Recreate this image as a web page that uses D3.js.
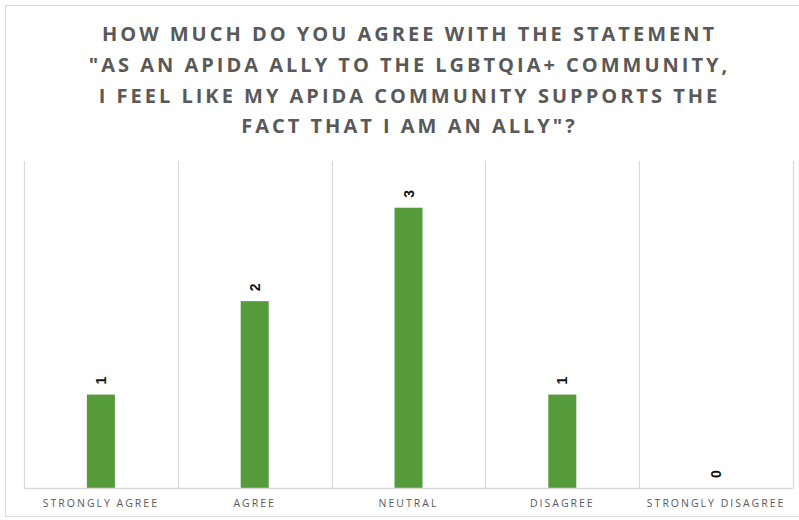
<!DOCTYPE html>
<html>
<head>
<meta charset="utf-8">
<script src="https://cdn.jsdelivr.net/npm/d3@7"></script>
<style>
  html, body { margin: 0; padding: 0; background: #fff; }
  svg { display: block; }
</style>
</head>
<body>
<svg id="chart" width="799" height="520"></svg>
<script>
// Survey responses
const categories = ["STRONGLY AGREE", "AGREE", "NEUTRAL", "DISAGREE", "STRONGLY DISAGREE"];
const counts = [1, 2, 3, 1, 0];
const titleLines = [
  "HOW MUCH DO YOU AGREE WITH THE STATEMENT",
  "\"AS AN APIDA ALLY TO THE LGBTQIA+ COMMUNITY,",
  "I FEEL LIKE MY APIDA COMMUNITY SUPPORTS THE",
  "FACT THAT I AM AN ALLY\"?"
];
const yMax = 3.5;

const W = 799, H = 520;
const plot = { left: 24, right: 793, top: 161, bottom: 488 };

const svg = d3.select("#chart");

// outer chart frame
svg.append("rect")
  .attr("x", 5.5).attr("y", 5.5)
  .attr("width", W).attr("height", 511)
  .attr("fill", "#fff")
  .attr("stroke", "#d9d9d9").attr("stroke-width", 1);

// title
const title = svg.append("text")
  .attr("text-anchor", "middle")
  .attr("font-family", "'Open Sans', sans-serif")
  .attr("font-weight", 700)
  .attr("font-size", 20)
  .attr("letter-spacing", 3)
  .attr("fill", "#595959");
title.selectAll("tspan")
  .data(titleLines)
  .join("tspan")
  .attr("x", 409.5)
  .attr("y", (d, i) => 41 + i * 30.8)
  .text(d => d);

const x = d3.scaleBand()
  .domain(categories)
  .range([plot.left, plot.right])
  .paddingInner(0)
  .paddingOuter(0);

const y = d3.scaleLinear()
  .domain([0, yMax])
  .range([plot.bottom, plot.top]);

// vertical category gridlines
const edges = categories.map(c => x(c)).concat([plot.right]);
svg.append("g")
  .selectAll("line")
  .data(edges)
  .join("line")
  .attr("x1", d => Math.round(d) + 0.5)
  .attr("x2", d => Math.round(d) + 0.5)
  .attr("y1", plot.top)
  .attr("y2", plot.bottom)
  .attr("stroke", "#d9d9d9")
  .attr("stroke-width", 1.2);

// bars
const barW = 28;
svg.append("g")
  .selectAll("rect")
  .data(counts)
  .join("rect")
  .attr("x", (d, i) => x(categories[i]) + x.bandwidth() / 2 - barW / 2)
  .attr("y", d => y(d))
  .attr("width", barW)
  .attr("height", d => y(0) - y(d))
  .attr("fill", "#559b3b");

// x axis
const xAxis = svg.append("g")
  .attr("transform", `translate(0,${plot.bottom})`)
  .call(d3.axisBottom(x).tickSize(0).tickPadding(12));
xAxis.select(".domain")
  .attr("stroke", "#d9d9d9")
  .attr("stroke-width", 1.5);
xAxis.selectAll("text")
  .attr("font-family", "'Open Sans', sans-serif")
  .attr("font-size", 10.5)
  .attr("letter-spacing", 2)
  .attr("fill", "#595959");

// value labels, rotated to read upward
svg.append("g")
  .selectAll("text")
  .data(counts)
  .join("text")
  .attr("transform", (d, i) => {
    const cx = x(categories[i]) + x.bandwidth() / 2;
    return `translate(${cx + 5},${y(d) - 10}) rotate(-90)`;
  })
  .attr("text-anchor", "start")
  .attr("font-family", "'Liberation Sans', Arial, sans-serif")
  .attr("font-weight", 700)
  .attr("font-size", 14)
  .attr("fill", "#111")
  .text(d => d);
</script>
</body>
</html>
